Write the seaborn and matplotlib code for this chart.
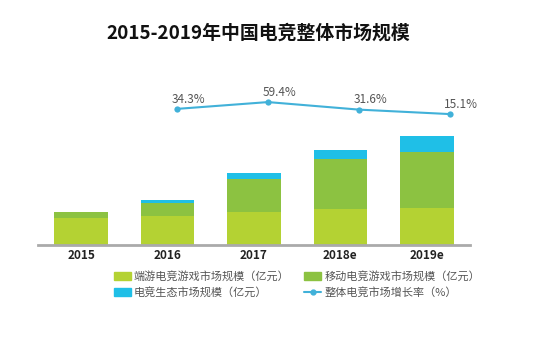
import numpy as np
import matplotlib
matplotlib.use('Agg')
import matplotlib.pyplot as plt
import seaborn as sns
from matplotlib.patches import Patch
from matplotlib.lines import Line2D

sns.set_style('white')
plt.rcParams['font.family'] = ['Noto Sans CJK SC', 'DejaVu Sans']

# data (亿元)
years = ['2015', '2016', '2017', '2018e', '2019e']
pcGame = [270, 290, 330, 360, 370]
mobileGame = [60, 130, 330, 500, 560]
ecoSystem = [5, 30, 60, 90, 160]
growthYears = ['2016', '2017', '2018e', '2019e']
growth = [34.3, 59.4, 31.6, 15.1]

cLime = '#B4D233'
cGreen = '#8CC241'
cBlue = '#1FBFE7'
cLine = '#41B1D9'

W, H = 553, 364
fig = plt.figure(figsize=(W / 100, H / 100), dpi=100)

# axes box in pixels: left 38, right 470, top 90, bottom 245
pos = [38 / W, (H - 245) / H, 432 / W, 155 / H]
ax = fig.add_axes(pos)

pcArr = np.array(pcGame)
midArr = pcArr + np.array(mobileGame)
topArr = midArr + np.array(ecoSystem)

sns.barplot(x=years, y=topArr, color=cBlue, width=0.62, saturation=1, linewidth=0, ax=ax)
sns.barplot(x=years, y=midArr, color=cGreen, width=0.62, saturation=1, linewidth=0, ax=ax)
sns.barplot(x=years, y=pcArr, color=cLime, width=0.62, saturation=1, linewidth=0, ax=ax)

ax.set_xlim(-0.5, 4.5)
ax.set_ylim(0, 1550)
for s in ['top', 'right', 'left']:
    ax.spines[s].set_visible(False)
ax.spines['bottom'].set_color('#AAAAAA')
ax.spines['bottom'].set_linewidth(2)
ax.set_yticks([])
ax.set_ylabel('')
ax.tick_params(axis='x', length=0, pad=3)
for lbl in ax.get_xticklabels():
    lbl.set_fontsize(8.5)
    lbl.set_fontweight('bold')
    lbl.set_color('#222222')

# growth line sits on its own overlay axes
ax2 = fig.add_axes(pos, frameon=False)
xi = np.arange(len(growthYears))
sns.lineplot(x=xi, y=growth, color=cLine, linewidth=1.5, marker='o',
             markersize=4.5, markeredgewidth=0, ax=ax2)
ax2.set_xlim(-1.527, 3.22)
ax2.set_ylim(-468, 104)
ax2.set_xticks([])
ax2.set_yticks([])
for i, v in enumerate(growth):
    ax2.annotate(f'{v}%', (xi[i], v), xytext=(8, 7), textcoords='offset points',
                 ha='center', va='center', fontsize=8.5, color='#555555')

fig.text(0.467, 1 - 33 / H, '2015-2019年中国电竞整体市场规模', ha='center', va='center',
         fontsize=13.6, fontweight='bold', color='#111111')

handles = [Patch(color=cLime), Patch(color=cBlue), Patch(color=cGreen),
           Line2D([0], [0], color=cLine, marker='o', markersize=3.5, linewidth=1.5)]
labels = ['端游电竞游戏市场规模（亿元）', '电竞生态市场规模（亿元）',
          '移动电竞游戏市场规模（亿元）', '整体电竞市场增长率（%）']
fig.legend(handles, labels, ncol=2, loc='upper left',
           bbox_to_anchor=(104 / W, 1 - 261 / H), frameon=False, fontsize=8,
           labelcolor='#555555', handlelength=1.5, handleheight=0.7,
           handletextpad=0.3, columnspacing=1.3, labelspacing=0.45)

fig.savefig('out.png', dpi=100)
